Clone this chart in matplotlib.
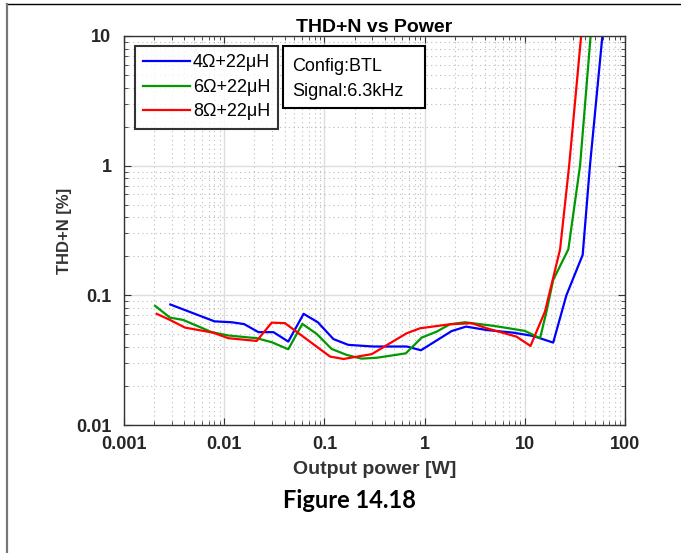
import numpy as np
import matplotlib
matplotlib.use("Agg")
import matplotlib.pyplot as plt
from matplotlib.lines import Line2D
from matplotlib.patches import Rectangle
from matplotlib.ticker import FixedLocator, FixedFormatter, LogLocator, NullFormatter

plt.rcParams['font.family'] = ['Liberation Sans', 'DejaVu Sans']

# output power [W] and THD+N [%] per load
p_4ohm = [0.0029, 0.008, 0.0119, 0.0158, 0.022, 0.031, 0.0436, 0.062, 0.086, 0.123,
          0.173, 0.307, 0.664, 0.92, 1.86, 2.59, 4.17, 7.69, 12.1, 19.2, 26, 37.8, 44.7, 62]
thd_4ohm = [0.085, 0.063, 0.062, 0.060, 0.052, 0.052, 0.044, 0.072, 0.062, 0.046,
            0.0415, 0.0403, 0.0403, 0.0377, 0.053, 0.0574, 0.054, 0.0515, 0.0486, 0.0432,
            0.1, 0.205, 1.0, 14]

p_6ohm = [0.00204, 0.00288, 0.0039, 0.0075, 0.011, 0.0211, 0.0298, 0.0436, 0.0602, 0.0838,
          0.118, 0.167, 0.235, 0.333, 0.65, 0.935, 1.32, 1.79, 2.53, 5.0, 10.0, 14.2,
          16.6, 19.2, 27.2, 35.6, 47]
thd_6ohm = [0.083, 0.0673, 0.0646, 0.052, 0.049, 0.0467, 0.0435, 0.0384, 0.0602, 0.0504,
            0.0386, 0.0347, 0.0325, 0.033, 0.0357, 0.0472, 0.0525, 0.0598, 0.062, 0.058,
            0.0532, 0.0467, 0.0771, 0.1315, 0.2265, 1.0, 14]

p_8ohm = [0.00212, 0.00288, 0.00406, 0.00778, 0.011, 0.0211, 0.0298, 0.0404, 0.114, 0.155,
          0.297, 0.663, 0.9, 1.79, 2.95, 4.17, 8.28, 11.4, 15.9, 22.5, 27.7, 38]
thd_8ohm = [0.072, 0.0646, 0.0564, 0.0515, 0.0467, 0.0445, 0.0616, 0.061, 0.0337, 0.0323,
            0.0352, 0.051, 0.0557, 0.0598, 0.061, 0.0557, 0.048, 0.0407, 0.075, 0.2265,
            1.0, 14]

labels = ['4\u03a9+22\u03bcH', '6\u03a9+22\u03bcH', '8\u03a9+22\u03bcH']
colors = ['#0000ff', '#009900', '#ff0000']

x_ticks = [0.001, 0.01, 0.1, 1, 10, 100]
x_ticklabels = ['0.001', '0.01', '0.1', '1', '10', '100']
y_ticks = [0.01, 0.1, 1, 10]
y_ticklabels = ['0.01', '0.1', '1', '10']

fig = plt.figure(figsize=(6.81, 5.53), dpi=100)
ax = fig.add_axes([124 / 681, 1 - 425 / 553, 501 / 681, 389 / 553])

for px, py, lab, c in zip([p_4ohm, p_6ohm, p_8ohm], [thd_4ohm, thd_6ohm, thd_8ohm], labels, colors):
    ax.plot(px, py, color=c, lw=1.6, label=lab)

ax.set_xscale('log')
ax.set_yscale('log')
ax.set_xlim(0.001, 100)
ax.set_ylim(0.01, 10)

ax.xaxis.set_major_locator(FixedLocator(x_ticks))
ax.xaxis.set_major_formatter(FixedFormatter(x_ticklabels))
ax.yaxis.set_major_locator(FixedLocator(y_ticks))
ax.yaxis.set_major_formatter(FixedFormatter(y_ticklabels))
for axis in (ax.xaxis, ax.yaxis):
    axis.set_minor_locator(LogLocator(base=10, subs=np.arange(2, 10), numticks=20))
    axis.set_minor_formatter(NullFormatter())

ax.tick_params(which='both', direction='in', top=True, right=True, color='#333333')
ax.tick_params(which='major', length=5, labelsize=13)
ax.tick_params(axis='x', which='major', pad=8)
ax.tick_params(axis='y', which='major', pad=9)
ax.tick_params(which='minor', length=3)
for lbl in ax.get_xticklabels() + ax.get_yticklabels():
    lbl.set_fontweight('bold')
    lbl.set_color('#262626')

ax.grid(which='major', color='#dddddd', lw=1.0, ls='-')
ax.grid(which='minor', color='#bbbbbb', lw=0.8, ls=(0, (1, 3)))
ax.set_axisbelow(True)
for s in ax.spines.values():
    s.set_color('#333333')
    s.set_linewidth(1.0)

ax.set_title('THD+N vs Power', fontsize=14, fontweight='bold', pad=3)
ax.set_xlabel('Output power [W]', fontsize=14, fontweight='bold', color='#333333', labelpad=6)
ax.set_ylabel('THD+N [%]', fontsize=12, fontweight='bold', color='#333333', labelpad=3)

leg = ax.legend(loc='upper left', bbox_to_anchor=(0.022, 0.974), fontsize=13, frameon=True,
                fancybox=False, edgecolor='black', handlelength=2.6, handletextpad=0.15,
                borderpad=0.45, labelspacing=0.42, borderaxespad=0)
leg.get_frame().set_linewidth(1.5)

# Config / signal box
ax.add_patch(Rectangle((0.317, 0.815), 0.284, 0.159, transform=ax.transAxes,
                       fc='white', ec='black', lw=1.5, zorder=5))
ax.text(0.335, 0.921, 'Config:BTL', transform=ax.transAxes, fontsize=13,
        va='center', ha='left', zorder=6)
ax.text(0.335, 0.858, 'Signal:6.3kHz', transform=ax.transAxes, fontsize=13,
        va='center', ha='left', zorder=6)

fig.text(349 / 681, 1 - 500 / 553, 'Figure 14.18', fontsize=17, fontweight='bold',
         family=['Lato', 'DejaVu Sans'], ha='center', va='center')

# page borders
fig.add_artist(Line2D([7 / 681, 1], [1 - 4 / 553, 1 - 4 / 553], color='black', lw=1.0))
fig.add_artist(Line2D([7 / 681, 7 / 681], [0, 1 - 4 / 553], color='#777777', lw=1.6))

fig.savefig('out.png', dpi=100)
